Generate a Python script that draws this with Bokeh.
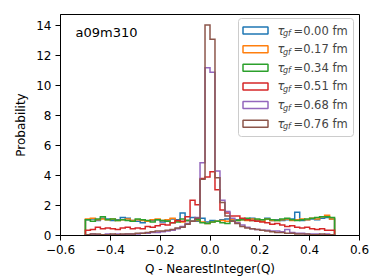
import numpy as np
from bokeh.plotting import figure
from bokeh.models import Label, BoxAnnotation, Range1d, FixedTicker
from bokeh.embed import file_html
from bokeh.resources import INLINE

# ---------------- data ----------------
tau_labels = ["0.00", "0.17", "0.34", "0.51", "0.68", "0.76"]
colors = ["#1f77b4", "#ff7f0e", "#2ca02c", "#d62728", "#9467bd", "#8c564b"]
bin_start = -0.5
bin_stop = 0.5
n_bins = 50

tau_000 = [1.05, 1.10, 1.00, 1.15, 1.10, 1.00, 1.05, 1.20, 1.15, 1.00,
           0.95, 0.85, 0.95, 1.00, 1.05, 0.90, 1.00, 1.10, 1.05, 1.50,
           1.00, 1.20, 0.95, 1.15, 0.90, 1.00, 0.95, 1.05, 1.10, 1.00,
           1.05, 1.10, 1.05, 1.15, 1.00, 1.05, 1.15, 1.00, 1.05, 1.00,
           1.05, 1.10, 1.55, 1.00, 1.05, 1.10, 1.05, 1.15, 1.20, 1.10]
tau_017 = [1.10, 1.15, 1.05, 1.10, 1.05, 1.10, 1.00, 1.05, 1.10, 1.00,
           1.05, 1.00, 0.95, 1.05, 1.10, 1.00, 1.05, 1.15, 0.95, 0.90,
           1.00, 0.95, 1.00, 0.90, 0.80, 0.90, 0.95, 1.00, 0.95, 1.05,
           1.00, 1.05, 1.00, 1.10, 1.05, 0.95, 1.10, 1.00, 1.00, 1.05,
           1.10, 1.00, 1.05, 1.10, 1.05, 1.15, 1.10, 1.25, 1.35, 1.10]
tau_034 = [1.05, 0.95, 1.10, 1.25, 1.05, 1.10, 1.00, 1.05, 1.00, 0.95,
           1.10, 1.05, 1.00, 0.90, 1.05, 1.00, 0.95, 0.85, 0.90, 1.10,
           1.00, 0.95, 1.05, 0.85, 0.80, 0.90, 0.95, 0.85, 0.80, 0.95,
           1.00, 1.05, 1.15, 1.00, 1.10, 1.05, 1.10, 1.05, 1.00, 1.10,
           1.15, 1.05, 1.00, 1.05, 1.10, 1.15, 1.20, 1.25, 1.25, 1.20]
tau_051 = [0.35, 0.40, 0.55, 0.45, 0.50, 0.45, 0.40, 0.50, 0.55, 0.45,
           0.50, 0.45, 0.60, 0.55, 0.65, 0.75, 0.70, 0.85, 1.00, 0.95,
           1.25, 2.35, 2.05, 3.80, 3.90, 4.25, 3.05, 1.70, 1.50, 1.30,
           1.30, 1.15, 1.05, 1.00, 0.95, 0.90, 0.85, 0.75, 0.80, 0.70,
           0.60, 0.65, 0.55, 0.50, 0.55, 0.45, 0.40, 0.45, 0.35, 0.35]
tau_068 = [0.05, 0.10, 0.05, 0.05, 0.10, 0.05, 0.10, 0.05, 0.10, 0.10,
           0.10, 0.15, 0.15, 0.20, 0.20, 0.25, 0.30, 0.35, 0.45, 0.60,
           0.80, 0.95, 1.20, 4.85, 11.20, 10.90, 4.30, 2.35, 1.60, 1.15,
           0.85, 0.70, 0.55, 0.45, 0.40, 0.35, 0.35, 0.30, 0.30, 0.25,
           0.40, 0.20, 0.15, 0.15, 0.10, 0.10, 0.10, 0.05, 0.10, 0.05]
tau_076 = [0.05, 0.10, 0.10, 0.05, 0.05, 0.10, 0.05, 0.10, 0.10, 0.10,
           0.15, 0.15, 0.20, 0.25, 0.30, 0.30, 0.35, 0.40, 0.50, 0.55,
           0.75, 0.95, 1.15, 3.75, 14.05, 13.10, 3.85, 2.20, 1.30, 0.95,
           0.80, 0.60, 0.50, 0.45, 0.40, 0.35, 0.30, 0.25, 0.20, 0.20,
           0.15, 0.15, 0.10, 0.10, 0.10, 0.05, 0.05, 0.10, 0.05, 0.05]
series = [tau_000, tau_017, tau_034, tau_051, tau_068, tau_076]

x_ticks = [-0.6, -0.4, -0.2, 0.0, 0.2, 0.4, 0.6]
x_tick_labels = ["\u22120.6", "\u22120.4", "\u22120.2", "0.0", "0.2", "0.4", "0.6"]
y_ticks = [0, 2, 4, 6, 8, 10, 12, 14]
x_label = "Q - NearestInteger(Q)"
y_label = "Probability"
ensemble = "a09m310"

FONT = "DejaVu Sans"

# ---------------- figure ----------------
p = figure(width=370, height=280,
           x_range=Range1d(-0.6, 0.6), y_range=Range1d(0, 14.75),
           output_backend="svg", toolbar_location=None,
           min_border_left=60, min_border_right=11,
           min_border_top=14, min_border_bottom=45)
p.grid.visible = False
p.outline_line_color = "black"
p.outline_line_width = 1
p.outline_line_alpha = 1
p.background_fill_color = "white"
p.border_fill_color = "white"

for ax in (p.xaxis[0], p.yaxis[0]):
    ax.axis_line_color = "black"
    ax.major_tick_line_color = "black"
    ax.major_tick_out = 5
    ax.major_tick_in = 0
    ax.minor_tick_out = 0
    ax.minor_tick_in = 0
    ax.major_label_text_font = FONT
    ax.major_label_text_font_size = "12px"
    ax.major_label_text_color = "black"
    ax.major_label_standoff = 4
    ax.axis_label_text_font = FONT
    ax.axis_label_text_font_size = "12px"
    ax.axis_label_text_font_style = "normal"
    ax.axis_label_text_color = "black"

p.xaxis.ticker = FixedTicker(ticks=x_ticks)
p.xaxis.major_label_overrides = {t: s for t, s in zip(x_ticks, x_tick_labels)}
p.yaxis.ticker = FixedTicker(ticks=y_ticks)
p.xaxis.axis_label = x_label
p.yaxis.axis_label = y_label
p.xaxis.axis_label_standoff = 5
p.yaxis.axis_label_standoff = 5

edges = np.linspace(bin_start, bin_stop, n_bins + 1)
for vals, c in zip(series, colors):
    xs = np.repeat(edges, 2)
    ys = np.concatenate([[0.0], np.repeat(np.asarray(vals, dtype=float), 2), [0.0]])
    p.line(xs, ys, line_color=c, line_width=1.5, line_join="miter")

# ensemble label
p.add_layout(Label(x=15, y=203, x_units="screen", y_units="screen",
                   text=ensemble, text_font=FONT, text_font_size="13px",
                   text_baseline="middle", text_align="left", text_color="black"))

# legend (drawn by hand to get the subscript)
p.add_layout(BoxAnnotation(left=178, right=293, bottom=99, top=217,
                           left_units="screen", right_units="screen",
                           top_units="screen", bottom_units="screen",
                           fill_color="white", fill_alpha=0.8,
                           line_color="#cccccc", line_alpha=1, line_width=1,
                           border_radius=3))
row_y0 = 205
row_dy = 18.65
for i, (lab, c) in enumerate(zip(tau_labels, colors)):
    cy = row_y0 - i * row_dy
    p.add_layout(BoxAnnotation(left=182.5, right=207.5, bottom=cy - 3.5, top=cy + 3.5,
                               left_units="screen", right_units="screen",
                               top_units="screen", bottom_units="screen",
                               fill_alpha=0, line_color=c, line_alpha=1, line_width=1.5))
    p.add_layout(Label(x=217, y=cy, x_units="screen", y_units="screen",
                       text="\u03c4", text_font=FONT, text_font_size="11.5px",
                       text_font_style="italic", text_baseline="middle"))
    p.add_layout(Label(x=222.5, y=cy - 3, x_units="screen", y_units="screen",
                       text="gf", text_font=FONT, text_font_size="8px",
                       text_font_style="italic", text_baseline="middle"))
    p.add_layout(Label(x=233, y=cy, x_units="screen", y_units="screen",
                       text="=" + lab + " fm", text_font=FONT, text_font_size="11.5px",
                       text_baseline="middle"))

open("out.html", "w").write(file_html(p, INLINE))
